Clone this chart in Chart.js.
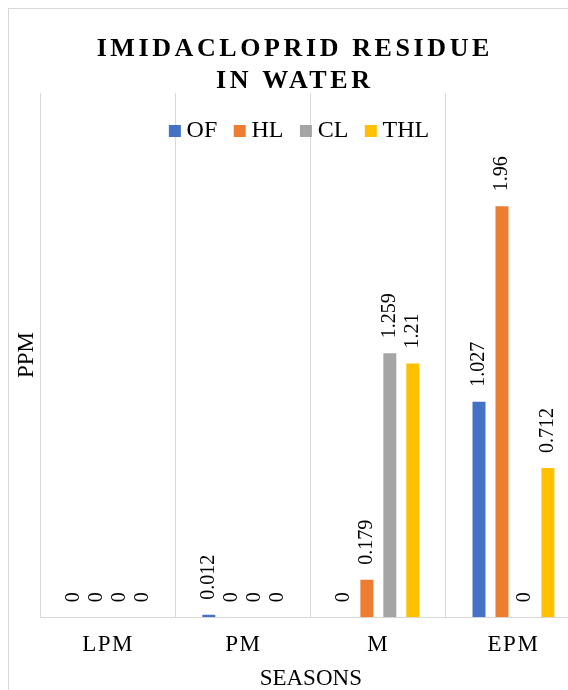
<!DOCTYPE html>
<html>
<head>
<meta charset="utf-8">
<script src="https://cdn.jsdelivr.net/npm/chart.js@4"></script>
<style>
  html, body { margin: 0; padding: 0; background: #fff; overflow: hidden; width: 568px; height: 690px; }
  #frame { position: absolute; left: 8px; top: 8px; width: 620px; height: 720px; border: 1px solid #d9d9d9; box-sizing: border-box; }
  #chart { position: absolute; left: 0; top: 0; }
</style>
</head>
<body>
<div id="frame"></div>
<canvas id="chart" width="600" height="700"></canvas>
<script>
// Seasons on the x axis and the four sampling series (ppm)
const seasons = ['LPM', 'PM', 'M', 'EPM'];
const seriesNames = ['OF', 'HL', 'CL', 'THL'];
const ofValues  = [0, 0.012, 0, 1.027];
const hlValues  = [0, 0, 0.179, 1.96];
const clValues  = [0, 0, 1.259, 0];
const thlValues = [0, 0, 1.21, 0.712];
const seriesColors = ['#4472C4', '#ED7D31', '#A5A5A5', '#FFC000'];
const titleLines = ['IMIDACLOPRID RESIDUE', 'IN WATER'];
const xAxisTitle = 'SEASONS';
const yAxisTitle = 'PPM';
const yMax = 2.5;

const SERIF = '"Liberation Serif", "Times New Roman", serif';
const seriesValues = [ofValues, hlValues, clValues, thlValues];

// Rotated value labels above each bar; x tick labels are drawn afterwards with spacing
const valueLabels = {
  id: 'valueLabels',
  beforeDraw(chart) {
    chart.ctx.letterSpacing = '0px';
  },
  afterDatasetsDraw(chart) {
    const ctx = chart.ctx;
    ctx.save();
    ctx.font = '20px ' + SERIF;
    ctx.fillStyle = '#000';
    ctx.textAlign = 'left';
    ctx.textBaseline = 'middle';
    chart.data.datasets.forEach((ds, i) => {
      chart.getDatasetMeta(i).data.forEach((bar, j) => {
        ctx.save();
        ctx.translate(bar.x, bar.y - 15);
        ctx.rotate(-Math.PI / 2);
        ctx.fillText(String(ds.data[j]), 0, 0);
        ctx.restore();
      });
    });
    ctx.restore();
    ctx.letterSpacing = '1.5px';
  },
  afterDraw(chart) {
    const ctx = chart.ctx;
    ctx.save();
    // Title, spaced capitals
    const sp = 3.6;
    ctx.letterSpacing = sp + 'px';
    ctx.font = 'bold 26px ' + SERIF;
    ctx.fillStyle = '#000';
    ctx.textAlign = 'left';
    ctx.textBaseline = 'alphabetic';
    const titleCenter = 293;
    const baselines = [56, 88];
    titleLines.forEach((line, k) => {
      const w = ctx.measureText(line).width - sp;
      ctx.fillText(line, titleCenter - w / 2, baselines[k]);
    });
    // Legend row
    ctx.letterSpacing = '0px';
    ctx.font = '24px ' + SERIF;
    const box = 12, gapText = 17.7, gapItem = 16.5;
    const widths = seriesNames.map(n => ctx.measureText(n).width);
    let total = 0;
    widths.forEach((w, i) => { total += gapText + w + (i < widths.length - 1 ? gapItem : 0); });
    let x = 299 - total / 2;
    const baseY = 137;
    seriesNames.forEach((n, i) => {
      ctx.fillStyle = seriesColors[i];
      ctx.fillRect(x, baseY - 12, box, box);
      ctx.fillStyle = '#000';
      ctx.fillText(n, x + gapText, baseY);
      x += gapText + widths[i] + gapItem;
    });
    ctx.restore();
    ctx.letterSpacing = '0px';
  }
};

new Chart(document.getElementById('chart'), {
  type: 'bar',
  data: {
    labels: seasons,
    datasets: seriesNames.map((name, i) => ({
      label: name,
      data: seriesValues[i],
      backgroundColor: seriesColors[i],
      borderWidth: 0,
      barPercentage: 0.565,
      categoryPercentage: 0.68
    }))
  },
  options: {
    responsive: false,
    animation: false,
    devicePixelRatio: 1,
    layout: { padding: { left: 10, right: 19, top: 93, bottom: 0 } },
    plugins: {
      legend: { display: false },
      title: { display: false },
      tooltip: { enabled: false }
    },
    scales: {
      x: {
        grid: { display: true, color: '#d9d9d9', lineWidth: 1, drawTicks: false, offset: true },
        border: { display: true, color: '#d9d9d9', width: 1 },
        ticks: { z: 1, color: '#000', font: { family: SERIF, size: 23 }, padding: 14, maxRotation: 0 },
        title: { display: true, text: xAxisTitle, color: '#000', font: { family: SERIF, size: 23 }, padding: { top: -7.6, bottom: 7.2 } }
      },
      y: {
        min: 0,
        max: yMax,
        grid: { display: false, drawTicks: false },
        border: { display: false },
        ticks: { display: false },
        title: { display: true, text: yAxisTitle, color: '#000', font: { family: SERIF, size: 23 }, padding: { top: 3, bottom: 0 } }
      }
    }
  },
  plugins: [valueLabels]
});
</script>
</body>
</html>
